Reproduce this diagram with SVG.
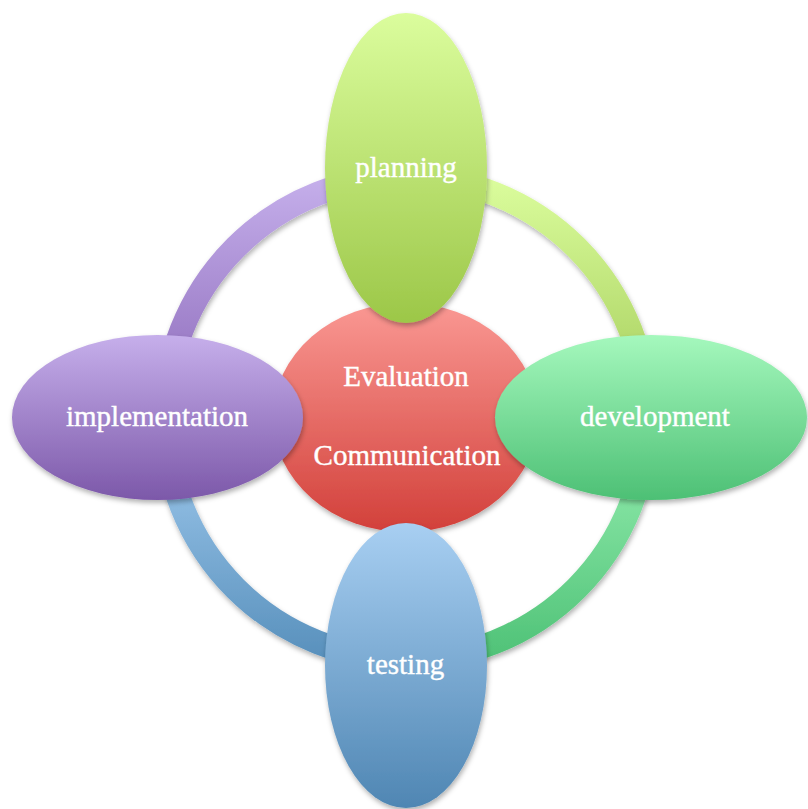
<svg xmlns="http://www.w3.org/2000/svg" width="808" height="809" viewBox="0 0 808 809">
  <defs>
    <filter id="shadow" x="-20%" y="-20%" width="140%" height="140%">
      <feDropShadow dx="1" dy="3" stdDeviation="2.5" flood-color="#000" flood-opacity="0.3"/>
    </filter>
    <!-- ring segment gradients -->
    <linearGradient id="gArcTL" gradientUnits="userSpaceOnUse" x1="0" y1="177" x2="0" y2="400">
      <stop offset="0" stop-color="#c5afeb"/>
      <stop offset="1" stop-color="#8e6cbb"/>
    </linearGradient>
    <linearGradient id="gArcTR" gradientUnits="userSpaceOnUse" x1="0" y1="177" x2="0" y2="400">
      <stop offset="0" stop-color="#dbfd9d"/>
      <stop offset="1" stop-color="#a6ce5c"/>
    </linearGradient>
    <linearGradient id="gArcBR" gradientUnits="userSpaceOnUse" x1="0" y1="436" x2="0" y2="659">
      <stop offset="0" stop-color="#95eeb0"/>
      <stop offset="1" stop-color="#4fc277"/>
    </linearGradient>
    <linearGradient id="gArcBL" gradientUnits="userSpaceOnUse" x1="0" y1="436" x2="0" y2="659">
      <stop offset="0" stop-color="#a0caee"/>
      <stop offset="1" stop-color="#5890bc"/>
    </linearGradient>
    <!-- node gradients -->
    <linearGradient id="gCenter" x1="0" y1="0" x2="0" y2="1">
      <stop offset="0" stop-color="#fa9893"/>
      <stop offset="1" stop-color="#d2403a"/>
    </linearGradient>
    <linearGradient id="gPlan" x1="0" y1="0" x2="0" y2="1">
      <stop offset="0" stop-color="#dbfd9d"/>
      <stop offset="1" stop-color="#9cc748"/>
    </linearGradient>
    <linearGradient id="gImpl" x1="0" y1="0" x2="0" y2="1">
      <stop offset="0" stop-color="#c6afeb"/>
      <stop offset="1" stop-color="#7c58a9"/>
    </linearGradient>
    <linearGradient id="gDev" x1="0" y1="0" x2="0" y2="1">
      <stop offset="0" stop-color="#a5f8bd"/>
      <stop offset="1" stop-color="#4dc075"/>
    </linearGradient>
    <linearGradient id="gTest" x1="0" y1="0" x2="0" y2="1">
      <stop offset="0" stop-color="#a8cff2"/>
      <stop offset="1" stop-color="#4f86b3"/>
    </linearGradient>
  </defs>
  <style>
    .arc { fill: none; stroke-width: 24; filter: url(#shadow); }
    .node { filter: url(#shadow); }
    .label { font-family: "Liberation Serif", "DejaVu Serif", serif; font-size: 29px; fill: #ffffff; stroke: #ffffff; stroke-width: 0.4; text-anchor: middle; }
  </style>

  <!-- ring joining the four stages -->
  <g id="connectors">
    <path class="arc" stroke="url(#gArcTL)" d="M 165 418 A 241 241 0 0 1 406 177"/>
    <path class="arc" stroke="url(#gArcTR)" d="M 406 177 A 241 241 0 0 1 647 418"/>
    <path class="arc" stroke="url(#gArcBR)" d="M 647 418 A 241 241 0 0 1 406 659"/>
    <path class="arc" stroke="url(#gArcBL)" d="M 406 659 A 241 241 0 0 1 165 418"/>
  </g>

  <g id="center">
    <ellipse class="node" cx="405.5" cy="417.5" rx="132.5" ry="114.5" fill="url(#gCenter)"/>
    <text class="label" x="406" y="386">Evaluation</text>
    <text class="label" x="407" y="465">Communication</text>
  </g>

  <g id="planning">
    <ellipse class="node" cx="406" cy="168" rx="81" ry="155" fill="url(#gPlan)"/>
    <text class="label" x="406" y="177">planning</text>
  </g>

  <g id="implementation">
    <ellipse class="node" cx="157.5" cy="417.5" rx="145.5" ry="82.5" fill="url(#gImpl)"/>
    <text class="label" x="157" y="426">implementation</text>
  </g>

  <g id="development">
    <ellipse class="node" cx="651" cy="417.5" rx="156" ry="82.5" fill="url(#gDev)"/>
    <text class="label" x="655" y="426">development</text>
  </g>

  <g id="testing">
    <ellipse class="node" cx="406" cy="665.5" rx="81" ry="142.5" fill="url(#gTest)"/>
    <text class="label" x="405.5" y="674">testing</text>
  </g>
</svg>
